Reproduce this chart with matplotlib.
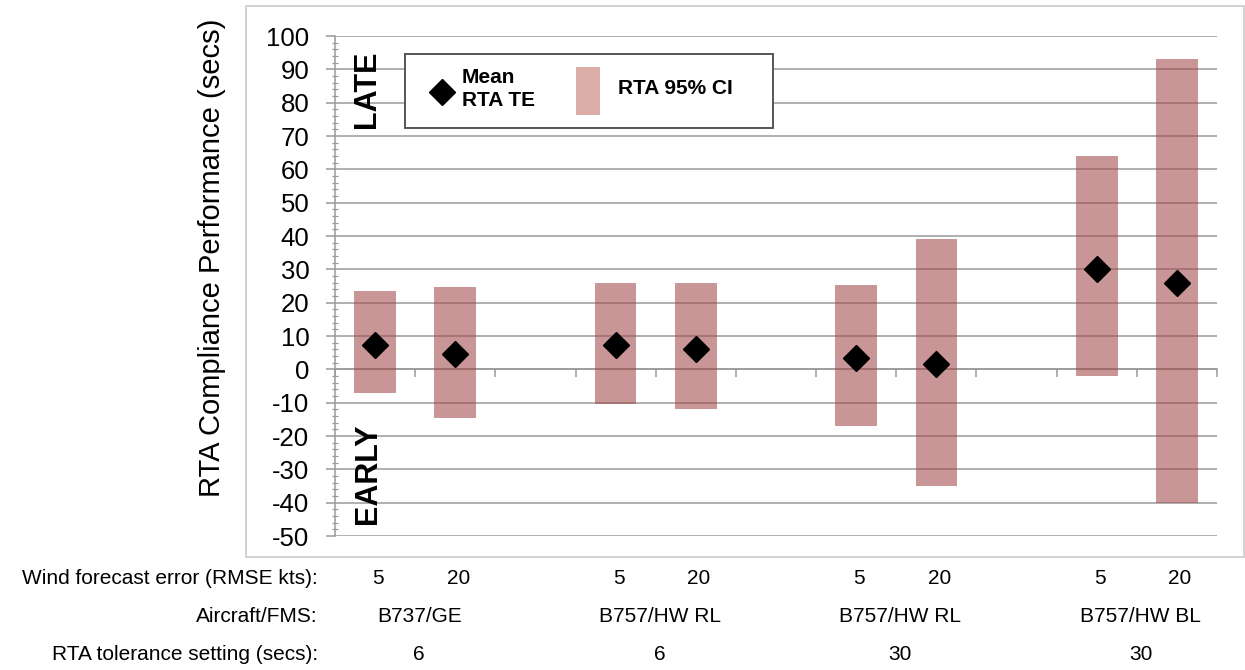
import matplotlib
matplotlib.use("Agg")
import matplotlib.pyplot as plt
from matplotlib import font_manager
from matplotlib.patches import Rectangle
from matplotlib.lines import Line2D
import matplotlib.transforms as mtransforms

# ---------------- data ----------------
wind_error = ['5', '20', '5', '20', '5', '20', '5', '20']
aircraft = ['B737/GE', 'B757/HW RL', 'B757/HW RL', 'B757/HW BL']
tolerance = ['6', '6', '30', '30']
mean_te = [7.2, 4.7, 7.2, 6.0, 3.5, 1.7, 30.2, 25.9]
ci_low = [-7.1, -14.6, -10.3, -12.0, -17.1, -35.1, -2.0, -40.0]
ci_high = [23.4, 24.7, 26.0, 26.0, 25.2, 39.0, 63.9, 93.2]
yticks = list(range(-50, 101, 10))

row_titles = ['Wind forecast error (RMSE kts):', 'Aircraft/FMS:', 'RTA tolerance setting (secs):']

# ---------------- fonts ----------------
names = {f.name for f in font_manager.fontManager.ttflist}
base = 'Liberation Sans' if 'Liberation Sans' in names else 'DejaVu Sans'
narrow = 'Liberation Sans Narrow' if 'Liberation Sans Narrow' in names else base
plt.rcParams['font.family'] = [base, 'DejaVu Sans']
plt.rcParams['axes.unicode_minus'] = False

W, H = 1245, 670
fig = plt.figure(figsize=(W / 100, H / 100), dpi=100)

def fx(px):
    return px / W

def fy(py):
    return 1 - py / H

# outer chart border
fig.patches.append(Rectangle((fx(246), fy(557)), fx(1244) - fx(246), fy(6) - fy(557),
                             transform=fig.transFigure, fill=False,
                             edgecolor='#cfcfcf', lw=1.3, zorder=0))

ax = fig.add_axes([fx(335), fy(536), fx(1217) - fx(335), fy(36) - fy(536)])
ax.set_xlim(-0.5, 10.5)
ax.set_ylim(-50, 100)

# x positions: 4 groups of 2 with an empty slot between groups
xpos = [g * 3 + w for g in range(4) for w in range(2)]
heights = [h - l for h, l in zip(ci_high, ci_low)]

grid_c = '#9a9a9a'
ax.set_yticks(yticks)
ax.yaxis.grid(True, color=grid_c, lw=1.1, zorder=0)
ax.set_axisbelow(True)
ax.set_yticks(range(-50, 101, 2), minor=True)
ax.tick_params(axis='y', which='major', direction='out', length=6.5, width=1.1,
               color=grid_c, labelsize=18.5, pad=12, labelcolor='black')
ax.tick_params(axis='y', which='minor', direction='inout', length=5, width=0.9, color=grid_c)

ax.set_xticks([i - 0.5 for i in range(12)])
ax.set_xticklabels([])
ax.tick_params(axis='x', which='major', direction='out', length=6, width=1.1, color=grid_c)

for s in ['top', 'right']:
    ax.spines[s].set_visible(False)
ax.spines['left'].set_color(grid_c)
ax.spines['left'].set_linewidth(1.1)
ax.spines['bottom'].set_position(('data', 0))
ax.spines['bottom'].set_color(grid_c)
ax.spines['bottom'].set_linewidth(1.1)

ax.bar(xpos, heights, bottom=ci_low, width=0.52, color=(0.63, 0.29, 0.29),
       alpha=0.58, linewidth=0, zorder=3)
ax.plot(xpos, mean_te, linestyle='none', marker='D', markersize=13,
        color='black', zorder=5)

# y axis title
fig.text(fx(212), fy(258), 'RTA Compliance Performance (secs)', rotation=90,
         ha='center', va='center', fontsize=21)

# LATE / EARLY annotations
fig.text(fx(367), fy(89), 'LATE', rotation=90, ha='center', va='center',
         fontsize=22, fontweight='bold')
fig.text(fx(368), fy(474), 'EARLY', rotation=90, ha='center', va='center',
         fontsize=22, fontweight='bold')

# legend (manual, as in the original)
fig.patches.append(Rectangle((fx(405), fy(128)), fx(773) - fx(405), fy(54) - fy(128),
                             transform=fig.transFigure, facecolor='white',
                             edgecolor='#555555', lw=1.4, zorder=10))
fig.lines.append(Line2D([fx(442)], [fy(92)], marker='D', markersize=13, color='black',
                        linestyle='none', transform=fig.transFigure, zorder=11))
fig.text(fx(462), fy(89), 'Mean\nRTA TE', ha='left', va='center', fontsize=15,
         fontweight='bold', linespacing=1.3, zorder=11)
fig.patches.append(Rectangle((fx(576), fy(115)), fx(600) - fx(576), fy(67) - fy(115),
                             transform=fig.transFigure, facecolor='#dbaea8',
                             edgecolor='none', zorder=11))
fig.text(fx(618), fy(88), 'RTA 95% CI', ha='left', va='center', fontsize=15,
         fontweight='bold', zorder=11)

# bottom label rows
trans = mtransforms.blended_transform_factory(ax.transData, fig.transFigure)
row_y = [fy(579), fy(616), fy(654)]
for title, yy in zip(row_titles, row_y):
    fig.text(fx(318), yy, title, ha='right', va='center', fontsize=15, family=narrow)
for x, lab in zip(xpos, wind_error):
    ax.text(x + 0.04, row_y[0], lab, transform=trans, ha='center', va='center',
            fontsize=15, family=narrow)
for g, (ac, tl) in enumerate(zip(aircraft, tolerance)):
    ax.text(g * 3 + 0.55, row_y[1], ac, transform=trans, ha='center', va='center',
            fontsize=15, family=narrow)
    ax.text(g * 3 + 0.55, row_y[2], tl, transform=trans, ha='center', va='center',
            fontsize=15, family=narrow)

fig.savefig('out.png', dpi=100)
